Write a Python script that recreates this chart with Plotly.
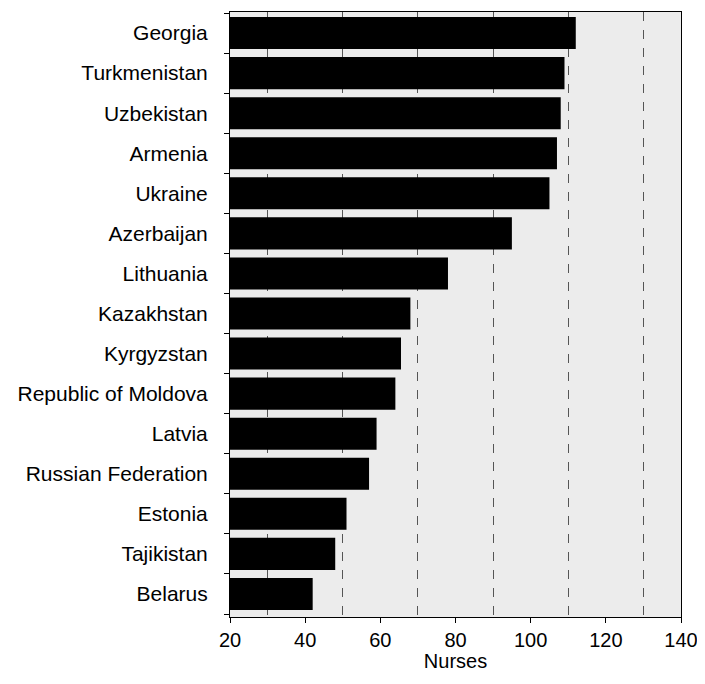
import plotly.graph_objects as go

countries = ["Georgia", "Turkmenistan", "Uzbekistan", "Armenia", "Ukraine",
             "Azerbaijan", "Lithuania", "Kazakhstan", "Kyrgyzstan",
             "Republic of Moldova", "Latvia", "Russian Federation", "Estonia",
             "Tajikistan", "Belarus"]
nurses = [112, 109, 108, 107, 105, 95, 78, 68, 65.5, 64, 59, 57, 51, 48, 42]
x_ticks = [20, 40, 60, 80, 100, 120, 140]

fig = go.Figure(go.Bar(
    x=nurses, y=countries, orientation="h", base=0,
    marker=dict(color="black", line=dict(width=0)), width=0.8,
))

font = "Liberation Sans, Arial, Helvetica, sans-serif"
fig.update_layout(
    width=697, height=664,
    margin=dict(l=222, r=24, t=4, b=55),
    paper_bgcolor="white", plot_bgcolor="#ececec",
    font=dict(family=font, size=20, color="black"),
    showlegend=False,
)
fig.update_xaxes(
    range=[20, 140], tickvals=x_ticks, ticks="outside", ticklen=5,
    tickcolor="black", tickfont=dict(size=20), automargin=False,
    ticklabeloverflow="allow",
    showline=True, linecolor="black", linewidth=1, mirror=True,
    showgrid=False,
    minor=dict(tick0=30, dtick=20, showgrid=True, gridcolor="#555555",
               griddash="dash", gridwidth=1),
    title=dict(text="Nurses", font=dict(size=20), standoff=2),
    zeroline=False,
)
fig.update_yaxes(
    categoryorder="array", categoryarray=countries[::-1],
    ticks="outside", ticklen=5, tickcolor="black", tickson="boundaries",
    tickfont=dict(size=21), automargin=False,
    showline=True, linecolor="black", linewidth=1, mirror=True,
    showgrid=False, ticklabelstandoff=17,
    range=[-0.575, 14.525],
)
fig.write_html("out.html")
